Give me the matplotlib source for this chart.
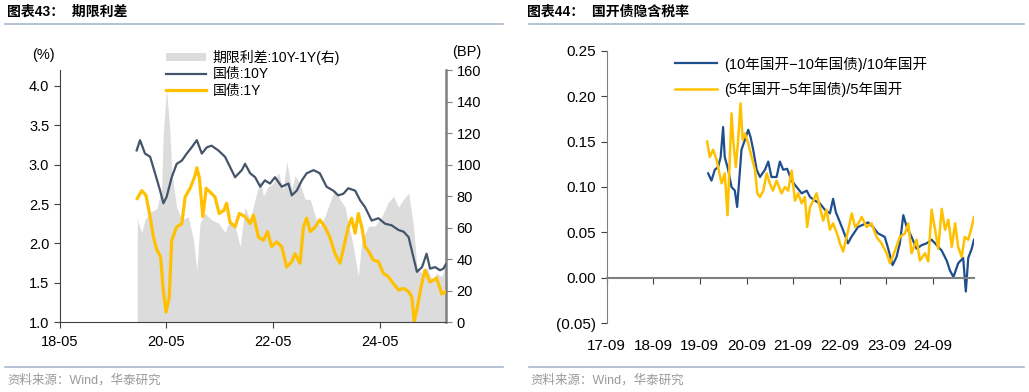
import matplotlib
matplotlib.use("Agg")
import matplotlib.pyplot as plt
from matplotlib.patches import Patch
from matplotlib.lines import Line2D
import pandas as pd

plt.rcParams['font.family'] = ['Liberation Sans', 'Noto Sans CJK SC']
plt.rcParams['axes.unicode_minus'] = False

# ---- chart 43: term spread ----
dates_10y = ["2019-10-10", "2019-11-02", "2019-12-06", "2020-01-10", "2020-02-13", "2020-03-17",
             "2020-04-10", "2020-05-02", "2020-06-06", "2020-07-10", "2020-08-14", "2020-09-17",
             "2020-10-21", "2020-11-25", "2020-12-29", "2021-02-02", "2021-03-06", "2021-04-21",
             "2021-06-06", "2021-07-21", "2021-08-14", "2021-09-29", "2021-10-21", "2021-11-25",
             "2021-12-29", "2022-02-02", "2022-03-06", "2022-04-10", "2022-05-14", "2022-06-29",
             "2022-08-14", "2022-09-06", "2022-10-10", "2022-11-14", "2022-12-17", "2023-02-02",
             "2023-03-17", "2023-05-02", "2023-06-17", "2023-07-21", "2023-08-25", "2023-09-28",
             "2023-11-14", "2023-12-17", "2024-01-21", "2024-03-06", "2024-04-21", "2024-06-06",
             "2024-07-21", "2024-09-06", "2024-10-10", "2024-11-14", "2024-12-06", "2025-01-10",
             "2025-02-14", "2025-03-17", "2025-04-10", "2025-05-14", "2025-06-17", "2025-07-10",
             "2025-07-28"]
yield_10y = [3.18, 3.31, 3.14, 3.10, 2.89, 2.68,
             2.51, 2.59, 2.84, 3.01, 3.05, 3.14,
             3.22, 3.31, 3.14, 3.22, 3.24, 3.18,
             3.10, 2.93, 2.84, 2.93, 3.01, 2.89,
             2.84, 2.72, 2.80, 2.76, 2.84, 2.72,
             2.76, 2.61, 2.67, 2.80, 2.89, 2.93,
             2.89, 2.72, 2.67, 2.61, 2.63, 2.70,
             2.67, 2.55, 2.46, 2.29, 2.32, 2.25,
             2.23, 2.17, 2.15, 2.08, 1.91, 1.64,
             1.70, 1.87, 1.68, 1.70, 1.66, 1.68,
             1.74]

dates_1y = ["2019-10-14", "2019-11-14", "2019-12-13", "2020-01-10", "2020-02-02", "2020-02-25",
            "2020-03-22", "2020-04-09", "2020-04-28", "2020-05-20", "2020-06-06", "2020-07-10",
            "2020-08-14", "2020-09-06", "2020-10-10", "2020-11-09", "2020-11-25", "2020-12-12",
            "2021-01-05", "2021-01-28", "2021-02-25", "2021-03-29", "2021-04-27", "2021-05-29",
            "2021-06-17", "2021-07-10", "2021-08-14", "2021-09-12", "2021-10-21", "2021-11-25",
            "2021-12-17", "2022-01-21", "2022-02-24", "2022-03-24", "2022-04-21", "2022-05-25",
            "2022-06-29", "2022-08-02", "2022-09-06", "2022-09-28", "2022-11-02", "2022-11-25",
            "2022-12-17", "2023-01-10", "2023-02-14", "2023-03-17", "2023-04-21", "2023-05-25",
            "2023-06-29", "2023-08-02", "2023-09-03", "2023-09-28", "2023-10-21", "2023-11-14",
            "2023-12-06", "2023-12-29", "2024-01-21", "2024-02-14", "2024-03-17", "2024-04-21",
            "2024-05-25", "2024-06-28", "2024-08-02", "2024-09-06", "2024-10-10", "2024-11-14",
            "2024-12-06", "2024-12-22", "2025-01-14", "2025-02-07", "2025-03-06", "2025-04-10",
            "2025-05-25", "2025-06-29", "2025-07-28"]
yield_1y = [2.57, 2.67, 2.61, 2.34, 2.08, 1.92,
            1.83, 1.41, 1.13, 1.32, 2.04, 2.21,
            2.25, 2.59, 2.70, 2.84, 2.96, 2.84,
            2.34, 2.70, 2.65, 2.59, 2.38, 2.42,
            2.51, 2.27, 2.21, 2.38, 2.34, 2.25,
            2.36, 2.08, 2.04, 2.15, 1.96, 2.02,
            1.96, 1.70, 1.77, 1.87, 1.75, 2.21,
            2.32, 2.15, 2.21, 2.30, 2.21, 2.08,
            1.87, 1.75, 2.00, 2.21, 2.32, 2.13,
            2.38, 2.21, 1.96, 1.90, 1.79, 1.77,
            1.62, 1.58, 1.49, 1.41, 1.43, 1.39,
            1.32, 1.01, 1.20, 1.45, 1.66, 1.51,
            1.56, 1.36, 1.39]

dates_spread = ["2019-10-14", "2019-10-21", "2019-11-14", "2019-12-06", "2020-01-10", "2020-02-25",
                "2020-03-29", "2020-04-09", "2020-05-02", "2020-05-25", "2020-06-06", "2020-07-10",
                "2020-08-14", "2020-09-28", "2020-11-02", "2020-11-25", "2020-12-17", "2021-01-21",
                "2021-03-06", "2021-04-21", "2021-06-06", "2021-07-10", "2021-08-14", "2021-09-17",
                "2021-10-21", "2021-11-25", "2021-12-29", "2022-02-02", "2022-02-24", "2022-03-28",
                "2022-05-02", "2022-06-06", "2022-07-10", "2022-08-02", "2022-09-06", "2022-09-28",
                "2022-11-02", "2022-12-06", "2023-01-10", "2023-02-14", "2023-03-17", "2023-04-21",
                "2023-05-25", "2023-06-29", "2023-08-02", "2023-09-06", "2023-09-28", "2023-11-02",
                "2023-12-06", "2023-12-29", "2024-02-14", "2024-03-29", "2024-05-14", "2024-06-28",
                "2024-08-02", "2024-09-06", "2024-10-10", "2024-11-14", "2024-12-17", "2025-01-10",
                "2025-02-14", "2025-03-20", "2025-04-22", "2025-05-25", "2025-06-29", "2025-07-21",
                "2025-07-28"]
spread_bp = [67, 63, 57, 65, 70, 72,
             85, 120, 148, 120, 95, 73,
             65, 67, 52, 33, 63, 69,
             65, 63, 57, 65, 61, 48,
             73, 65, 78, 90, 80, 86,
             88, 95, 84, 102, 84, 93,
             88, 78, 78, 67, 61, 67,
             76, 84, 78, 73, 63, 48,
             29, 52, 61, 61, 67, 76,
             80, 73, 78, 82, 61, 35,
             31, 35, 27, 31, 29, 35,
             32]

left_ticks = ["2018-05-01", "2020-05-01", "2022-05-01", "2024-05-01"]
left_tick_labels = ["18-05", "20-05", "22-05", "24-05"]

# ---- chart 44: implied tax rate of CDB bonds ----
dates_10 = ["2019-11-05", "2019-12-01", "2019-12-27", "2020-01-22", "2020-02-11", "2020-03-01",
            "2020-03-14", "2020-04-10", "2020-05-06", "2020-06-01", "2020-06-19", "2020-07-05",
            "2020-07-23", "2020-08-19", "2020-09-14", "2020-10-02", "2020-10-23", "2020-11-19",
            "2020-12-15", "2021-01-23", "2021-02-18", "2021-03-15", "2021-04-24", "2021-05-20",
            "2021-06-15", "2021-07-16", "2021-08-20", "2021-09-28", "2021-11-07", "2021-12-16",
            "2022-01-11", "2022-02-18", "2022-03-29", "2022-05-07", "2022-06-16", "2022-07-11",
            "2022-08-02", "2022-08-17", "2022-09-26", "2022-11-04", "2022-12-01", "2023-01-22",
            "2023-04-11", "2023-05-20", "2023-06-28", "2023-08-20", "2023-09-16", "2023-10-20",
            "2023-11-20", "2023-12-16", "2024-01-12", "2024-02-08", "2024-03-17", "2024-04-25",
            "2024-06-04", "2024-07-13", "2024-08-21", "2024-09-30", "2024-11-08", "2024-12-17",
            "2025-01-12", "2025-02-08", "2025-03-17", "2025-04-25", "2025-05-16", "2025-06-04",
            "2025-07-01", "2025-07-19"]
tax_10 = [0.115, 0.107, 0.119, 0.122, 0.133, 0.166,
          0.133, 0.119, 0.100, 0.096, 0.078, 0.107,
          0.141, 0.152, 0.163, 0.155, 0.141, 0.119,
          0.111, 0.119, 0.128, 0.111, 0.111, 0.128,
          0.119, 0.120, 0.107, 0.100, 0.093, 0.096,
          0.089, 0.085, 0.082, 0.075, 0.071, 0.087,
          0.072, 0.067, 0.053, 0.038, 0.045, 0.056,
          0.061, 0.056, 0.049, 0.045, 0.032, 0.014,
          0.023, 0.038, 0.069, 0.056, 0.045, 0.032,
          0.036, 0.038, 0.042, 0.036, 0.030, 0.019,
          0.008, 0.001, 0.016, 0.022, -0.015, 0.022,
          0.032, 0.042]

dates_5 = ["2019-10-28", "2019-11-18", "2019-12-14", "2020-01-10", "2020-02-01", "2020-02-19",
           "2020-03-14", "2020-04-05", "2020-04-23", "2020-05-06", "2020-05-19", "2020-06-09",
           "2020-06-27", "2020-07-16", "2020-08-01", "2020-08-19", "2020-09-14", "2020-10-10",
           "2020-11-06", "2020-11-24", "2020-12-15", "2021-01-10", "2021-02-06", "2021-03-02",
           "2021-03-27", "2021-04-24", "2021-06-02", "2021-06-28", "2021-07-24", "2021-08-20",
           "2021-09-15", "2021-10-10", "2021-11-07", "2021-12-02", "2021-12-20", "2022-01-11",
           "2022-02-06", "2022-03-03", "2022-03-29", "2022-04-24", "2022-05-20", "2022-06-16",
           "2022-07-11", "2022-08-20", "2022-09-02", "2022-09-28", "2022-11-07", "2022-12-04",
           "2022-12-30", "2023-01-25", "2023-02-21", "2023-03-30", "2023-05-08", "2023-06-16",
           "2023-07-25", "2023-09-04", "2023-09-30", "2023-11-08", "2023-12-16", "2024-01-25",
           "2024-02-20", "2024-03-17", "2024-04-25", "2024-05-21", "2024-06-30", "2024-07-25",
           "2024-08-21", "2024-09-17", "2024-10-12", "2024-11-08", "2024-12-04", "2024-12-30",
           "2025-01-26", "2025-02-21", "2025-03-17", "2025-04-13", "2025-05-08", "2025-06-04",
           "2025-07-01", "2025-07-19"]
tax_5 = [0.150, 0.133, 0.141, 0.130, 0.115, 0.104,
         0.115, 0.069, 0.133, 0.181, 0.152, 0.122,
         0.152, 0.192, 0.152, 0.159, 0.148, 0.133,
         0.119, 0.093, 0.089, 0.096, 0.115, 0.104,
         0.096, 0.107, 0.093, 0.100, 0.096, 0.118,
         0.085, 0.093, 0.082, 0.089, 0.056, 0.078,
         0.085, 0.093, 0.078, 0.063, 0.075, 0.053,
         0.060, 0.045, 0.038, 0.029, 0.053, 0.071,
         0.056, 0.060, 0.067, 0.056, 0.060, 0.045,
         0.038, 0.027, 0.016, 0.030, 0.045, 0.049,
         0.060, 0.027, 0.042, 0.019, 0.027, 0.018,
         0.075, 0.053, 0.032, 0.076, 0.053, 0.064,
         0.034, 0.060, 0.034, 0.023, 0.045, 0.042,
         0.056, 0.067]

right_ticks = ["2017-09-01", "2018-09-01", "2019-09-01", "2020-09-01",
               "2021-09-01", "2022-09-01", "2023-09-01", "2024-09-01"]
right_tick_labels = ["17-09", "18-09", "19-09", "20-09", "21-09", "22-09", "23-09", "24-09"]
right_yticks = [-0.05, 0.0, 0.05, 0.10, 0.15, 0.20, 0.25]
right_ytick_labels = ["(0.05)", "0.00", "0.05", "0.10", "0.15", "0.20", "0.25"]

C_10Y = "#44546A"
C_1Y = "#FFC000"
C_GRAY = "#DCDCDC"
C_BLUE = "#1F4E8C"
C_RULE = "#A9B8CC"

fig = plt.figure(figsize=(10.29, 3.92), dpi=100)

# headers / footers
fig.text(7 / 1029, 1 - 12 / 392, "图表43：  期限利差", fontsize=10, fontweight='bold', va='center', ha='left')
fig.text(527 / 1029, 1 - 12 / 392, "图表44：  国开债隐含税率", fontsize=10, fontweight='bold', va='center', ha='left')
for x0, x1 in [(5, 503), (529, 1024)]:
    fig.add_artist(Line2D([x0 / 1029, x1 / 1029], [1 - 23.5 / 392] * 2, color=C_RULE, lw=1.2))
    fig.add_artist(Line2D([x0 / 1029, x1 / 1029], [1 - 366.5 / 392] * 2, color=C_RULE, lw=1.2))
fig.text(7 / 1029, 1 - 380 / 392, "资料来源：Wind，华泰研究", fontsize=9, color="#9A9A9A", va='center')
fig.text(530 / 1029, 1 - 380 / 392, "资料来源：Wind，华泰研究", fontsize=9, color="#9A9A9A", va='center')

# ---- left chart ----
ax1 = fig.add_axes([59.7 / 1029, (392 - 322.3) / 392, 386.3 / 1029, 252.3 / 392])
ax2 = ax1.twinx()
ax2.fill_between(pd.to_datetime(dates_spread), 0, spread_bp, color=C_GRAY, lw=0)
ax1.set_zorder(ax2.get_zorder() + 1)
ax1.patch.set_visible(False)
ax1.plot(pd.to_datetime(dates_10y), yield_10y, color=C_10Y, lw=1.6)
ax1.plot(pd.to_datetime(dates_1y), yield_1y, color=C_1Y, lw=2.3)

ax1.set_xlim(pd.Timestamp("2018-05-01"), pd.Timestamp("2025-07-28"))
ax1.set_ylim(1.0, 4.2)
ax1.set_yticks([1.0, 1.5, 2.0, 2.5, 3.0, 3.5, 4.0])
ax1.yaxis.set_major_formatter(plt.FormatStrFormatter('%.1f'))
ax2.set_ylim(0, 160)
ax2.set_yticks(range(0, 161, 20))
ax1.set_xticks(pd.to_datetime(left_ticks))
ax1.set_xticklabels(left_tick_labels)

ax1.spines['top'].set_visible(False)
ax2.spines['top'].set_visible(False)
ax1.spines['right'].set_visible(False)
ax2.spines['left'].set_visible(False)
ax2.spines['bottom'].set_visible(False)
ax2.spines['right'].set_color('#7F7F7F')
ax2.spines['right'].set_linewidth(1.8)
ax1.spines['left'].set_color('#404040')
ax1.spines['bottom'].set_color('#404040')
ax1.tick_params(axis='both', labelsize=10.5, length=4, color='#404040')
ax1.tick_params(axis='x', pad=5)
ax2.tick_params(axis='y', labelsize=10.5, length=4, color='#7F7F7F')

fig.text(43 / 1029, 1 - 55 / 392, "(%)", fontsize=10.5, ha='center', va='center')
fig.text(467 / 1029, 1 - 52 / 392, "(BP)", fontsize=10.5, ha='center', va='center')

h_left = [Patch(facecolor=C_GRAY, edgecolor='none'),
          Line2D([], [], color=C_10Y, lw=1.6),
          Line2D([], [], color=C_1Y, lw=2.3)]
ax1.legend(h_left, ["期限利差:10Y-1Y(右)", "国债:10Y", "国债:1Y"],
           loc='upper left', bbox_to_anchor=(0.26, 1.1), frameon=False,
           fontsize=10, handlelength=2.9, handleheight=0.5, labelspacing=0.15,
           handletextpad=0.5, borderaxespad=0)

# ---- right chart ----
ax3 = fig.add_axes([606.7 / 1029, (392 - 323.3) / 392, 367.3 / 1029, 272.6 / 392])
ax3.plot(pd.to_datetime(dates_10), tax_10, color=C_BLUE, lw=1.6, label="(10年国开−10年国债)/10年国开")
ax3.plot(pd.to_datetime(dates_5), tax_5, color=C_1Y, lw=1.8, label="(5年国开−5年国债)/5年国开")
ax3.set_xlim(pd.Timestamp("2017-09-01"), pd.Timestamp("2025-07-19"))
ax3.set_ylim(-0.05, 0.25)
ax3.set_yticks(right_yticks)
ax3.set_yticklabels(right_ytick_labels)
ax3.set_xticks(pd.to_datetime(right_ticks))
ax3.set_xticklabels(right_tick_labels)
ax3.spines['top'].set_visible(False)
ax3.spines['right'].set_visible(False)
ax3.spines['bottom'].set_position(('data', 0))
ax3.spines['bottom'].set_color('#7F7F7F')
ax3.spines['bottom'].set_linewidth(1.5)
ax3.spines['left'].set_color('#7F7F7F')
ax3.tick_params(axis='both', labelsize=11, color='#404040', length=4)
ax3.tick_params(axis='x', pad=40)
ax3.legend(loc='upper left', bbox_to_anchor=(0.17, 1.0), frameon=False, fontsize=10.5,
           handlelength=2.9, labelspacing=0.7, handletextpad=0.5, borderaxespad=0)

fig.savefig("out.png", dpi=100)
